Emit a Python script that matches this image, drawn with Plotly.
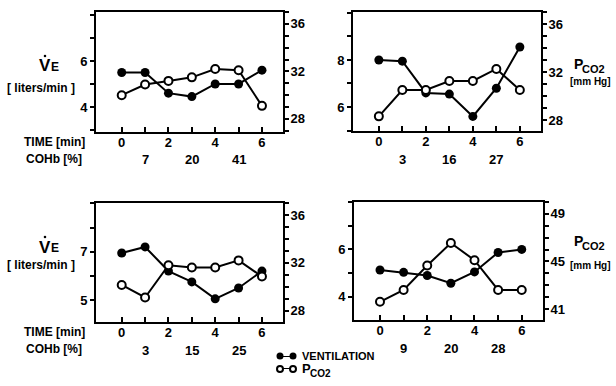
import plotly.graph_objects as go

W, H = 616, 386

times = [0, 1, 2, 3, 4, 5, 6]
time_labels = [0, 2, 4, 6]

vent = [
    [5.5, 5.5, 4.6, 4.45, 5.0, 5.0, 5.6],
    [8.0, 7.95, 6.6, 6.55, 5.6, 6.8, 8.55],
    [6.95, 7.2, 6.2, 5.75, 5.05, 5.5, 6.2],
    [5.13, 5.03, 4.9, 4.57, 5.05, 5.87, 6.0],
]
pco2 = [
    [30.0, 30.9, 31.2, 31.5, 32.2, 32.1, 29.1],
    [28.3, 30.5, 30.5, 31.25, 31.25, 32.25, 30.5],
    [30.15, 29.1, 31.8, 31.6, 31.6, 32.2, 30.85],
    [41.6, 42.6, 44.65, 46.55, 45.1, 42.6, 42.6],
]
cohb_times = [1, 3, 5]
cohb = [["7", "20", "41"], ["3", "16", "27"], ["3", "15", "25"], ["9", "20", "28"]]

left_ticks = [[3, 4, 5, 6, 7, 8], [5, 6, 7, 8, 9, 10], [5, 6, 7, 8, 9], [4, 5, 6, 7, 8]]
left_labels = [[4, 6], [6, 8], [5, 7], [4, 6]]
right_ticks = [list(range(27, 38)), list(range(28, 38)), list(range(28, 38)), list(range(41, 51))]
right_labels = [[28, 32, 36], [28, 32, 36], [28, 32, 36], [41, 45, 49]]

# layout geometry (pixels)
boxes = [(96, 283, 12, 132), (353, 541, 12, 131), (96, 283, 203, 322), (354, 543, 202, 320)]
left_ranges = [[2.91, 8.13], [4.98, 10.04], [4.09, 9.02], [3.02, 8.0]]
right_ranges = [[26.9, 37.0], [27.08, 37.0], [27.05, 37.0], [40.07, 50.0]]
x_range = [-1.1, 6.9]

FONT = "Liberation Sans"
BLACK = "black"

fig = go.Figure()
layout = dict(
    width=W, height=H, margin=dict(l=0, r=0, t=0, b=0),
    paper_bgcolor="white", plot_bgcolor="white", showlegend=False,
    font=dict(family=FONT, color=BLACK, size=12),
)
annotations = []
shapes = []

def px(x):
    return x / W

def py(y):
    return 1 - y / H

def minor(vals, labeled, side):
    return dict(tickvals=[v for v in vals if v not in labeled], ticks=side,
                ticklen=4 if side == "outside" else 5, tickwidth=2, tickcolor=BLACK,
                showgrid=False)

def text(x, y, s, size, xanchor="center"):
    annotations.append(dict(x=px(x), y=py(y), xref="paper", yref="paper",
                            text=f"<b>{s}</b>", showarrow=False, borderpad=0,
                            xanchor=xanchor, yanchor="middle", font=dict(size=size)))

def pco2_label(xl, yc, big=14, small=11):
    # "P" with subscript "CO2" written as two texts
    text(xl, yc, "P", big, "left")
    text(xl + big * 0.6, yc + 5, "CO2", small, "left")

for k in range(4):
    x0, x1, y0, y1 = boxes[k]
    xa = "xaxis" if k == 0 else f"xaxis{k+1}"
    xn = "x" if k == 0 else f"x{k+1}"
    ly = 2 * k + 1
    ry = 2 * k + 2
    lya = "yaxis" if ly == 1 else f"yaxis{ly}"
    lyn = "y" if ly == 1 else f"y{ly}"
    rya = f"yaxis{ry}"
    ryn = f"y{ry}"
    layout[xa] = dict(
        domain=[px(x0), px(x1)], anchor=lyn, range=x_range,
        tickvals=time_labels, ticks="inside", ticklen=5, tickwidth=2,
        minor=minor(times, time_labels, "inside"),
        tickcolor=BLACK, showline=True, linewidth=2, linecolor=BLACK, mirror=True,
        showgrid=False, zeroline=False, fixedrange=True, ticklabelstandoff=-3,
        tickfont=dict(size=13, weight="bold"),
    )
    layout[lya] = dict(
        domain=[py(y1), py(y0)], anchor=xn, range=left_ranges[k],
        tickvals=left_labels[k], minor=minor(left_ticks[k], left_labels[k], "outside"),
        ticks="outside", ticklen=4, tickwidth=2, tickcolor=BLACK,
        showline=True, linewidth=2, linecolor=BLACK, mirror=True,
        showgrid=False, zeroline=False, tickfont=dict(size=13, weight="bold"),
    )
    layout[rya] = dict(
        overlaying=lyn, anchor=xn, side="right", range=right_ranges[k],
        tickvals=right_labels[k], minor=minor(right_ticks[k], right_labels[k], "outside"),
        ticks="outside", ticklen=4, tickwidth=2, tickcolor=BLACK,
        showline=True, linewidth=2, linecolor=BLACK, ticklabelstandoff=-1,
        showgrid=False, zeroline=False, tickfont=dict(size=13, weight="bold"),
    )
    fig.add_trace(go.Scatter(
        x=times, y=vent[k], xaxis=xn, yaxis=lyn, mode="lines+markers",
        line=dict(color=BLACK, width=2),
        marker=dict(symbol="circle", size=9, color=BLACK),
        cliponaxis=False,
    ))
    fig.add_trace(go.Scatter(
        x=times, y=pco2[k], xaxis=xn, yaxis=ryn, mode="lines+markers",
        line=dict(color=BLACK, width=2),
        marker=dict(symbol="circle", size=8, color="white", line=dict(color=BLACK, width=2)),
        cliponaxis=False,
    ))
    # COHb labels
    for t, lab in zip(cohb_times, cohb[k]):
        annotations.append(dict(
            x=t, xref=xn, y=py(y1 + 28), yref="paper", text=f"<b>{lab}</b>",
            showarrow=False, font=dict(size=13), xanchor="center", yanchor="middle",
        ))

# row labels (left side)
for ybot in [132, 322]:
    text(54, ybot + 10, "TIME [min]", 12)
    text(54, ybot + 27, "COHb [%]", 12)

# left y titles: V-dot E and [liters/min]
for yc_v, yc_l in [(66, 88), (247, 265)]:
    text(45, yc_v, "V", 17)
    text(55, yc_v + 1, "E", 12)
    shapes.append(dict(type="circle", xref="paper", yref="paper",
                       x0=px(43.7), x1=px(46.3), y0=py(yc_v - 11.3), y1=py(yc_v - 8.7),
                       fillcolor=BLACK, line=dict(width=0)))
    text(41, yc_l, "[ liters/min ]", 12)

# right y titles
for xl, yc_p, yc_m in [(573, 64, 82), (573, 241, 265)]:
    pco2_label(xl, yc_p)
    text(590, yc_m, "[mm Hg]", 10)

# legend glyphs on a hidden axis
legend_x = [0, 1]
legend_rows = [1, 0]
layout["xaxis5"] = dict(domain=[px(280), px(293)], range=[0, 1], visible=False, anchor="y9")
layout["yaxis9"] = dict(domain=[py(369), py(356)], range=[0, 1], visible=False, anchor="x5")
fig.add_trace(go.Scatter(x=legend_x, y=[legend_rows[0]] * 2, xaxis="x5", yaxis="y9",
                         mode="lines+markers", line=dict(color=BLACK, width=2),
                         marker=dict(size=7, color=BLACK), cliponaxis=False))
fig.add_trace(go.Scatter(x=legend_x, y=[legend_rows[1]] * 2, xaxis="x5", yaxis="y9",
                         mode="lines+markers", line=dict(color=BLACK, width=2),
                         marker=dict(size=6, color="white", line=dict(color=BLACK, width=2)),
                         cliponaxis=False))
text(301, 356, "VENTILATION", 11, "left")
pco2_label(301, 368, big=13, small=10)

layout["annotations"] = annotations
layout["shapes"] = shapes
fig.update_layout(**layout)
fig.write_html("out.html")
